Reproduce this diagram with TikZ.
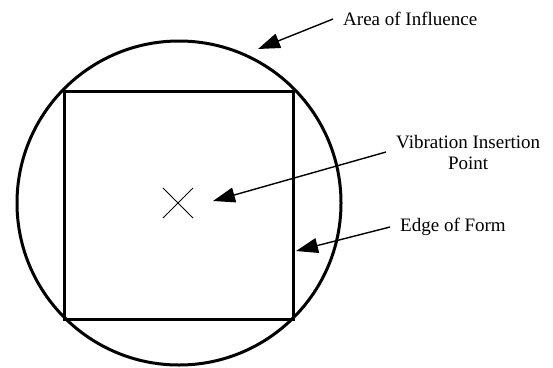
\documentclass[tikz,border=0pt]{standalone}
\usepackage{fontspec}
\setmainfont{Liberation Serif}
\usetikzlibrary{arrows.meta}
\tikzset{
  callout/.style={anchor=west, inner xsep=10pt, inner ysep=0pt, font=\fontsize{19}{21}\selectfont, align=center},
  pointer/.style={line width=1.4pt, -{Triangle[length=22pt, width=15pt]}}
}

\begin{document}
\begin{tikzpicture}[x=1pt, y=-1pt]
\useasboundingbox (0,0) rectangle (553,367);
% area of influence and form
\draw[line width=3pt] (179,203) circle[radius=162];
\draw[line width=3pt] (64.5,91) rectangle (293,319);
% insertion point
\coordinate (pt) at (178,203);
\draw[line width=1pt] ([shift={(-15,-15)}]pt) -- ([shift={(15,15)}]pt);
\draw[line width=1pt] ([shift={(-15,15)}]pt) -- ([shift={(15,-15)}]pt);
% labels
\node[callout] (area) at (333,19) {Area of Influence};
\node[callout] (vib) at (386,152) {Vibration Insertion\\Point};
\node[callout] (edge) at (390,227) {Edge of Form};
\coordinate (areatip) at (258,49);
\coordinate (vibtip) at (213,201);
\coordinate (edgetip) at (296,251);
\draw[pointer] (area.west) -- (areatip);
\draw[pointer] (vib.west) -- (vibtip);
\draw[pointer] (edge.west) -- (edgetip);
\end{tikzpicture}
\end{document}
